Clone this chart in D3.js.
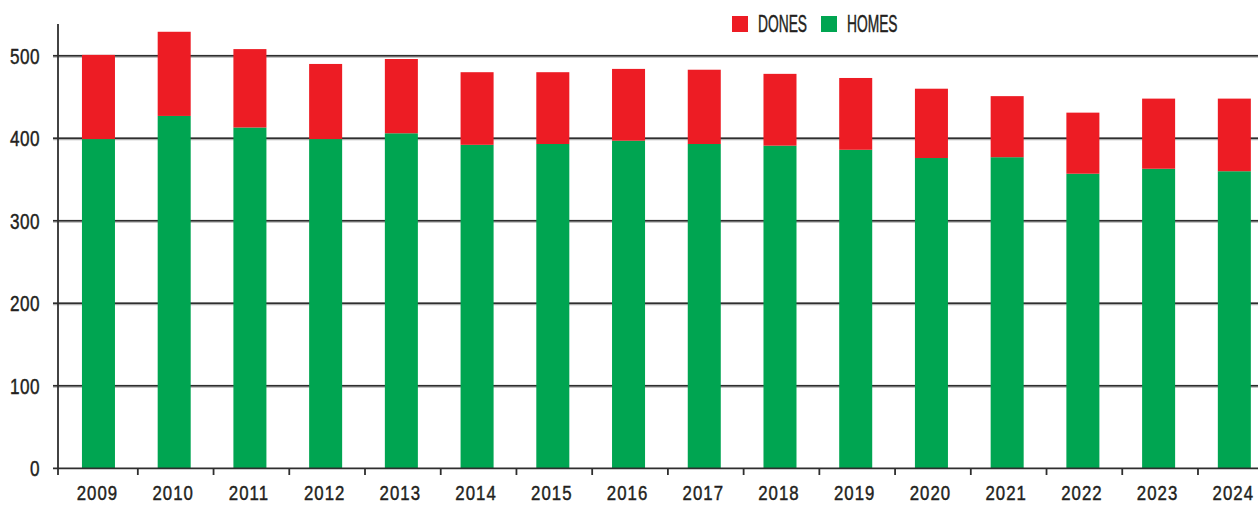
<!DOCTYPE html>
<html>
<head>
<meta charset="utf-8">
<script src="https://cdn.jsdelivr.net/npm/d3@7"></script>
<style>
  body { margin: 0; background: #fff; }
  svg { display: block; }
  text { font-family: 'Liberation Sans', Arial, sans-serif; fill: #231f20; stroke: #231f20; stroke-width: 0.45; }
</style>
</head>
<body>
<svg id="chart" width="1260" height="505"></svg>
<script>
const years = ['2009', '2010', '2011', '2012', '2013', '2014', '2015', '2016',
  '2017', '2018', '2019', '2020', '2021', '2022', '2023', '2024']
const homes = [399, 427, 413, 399, 406, 392, 393, 397, 393, 391, 386, 376, 377, 357, 363, 360]
const totals = [501, 529, 508, 490, 496, 480, 480, 484, 483, 478, 473, 460, 451, 431, 448, 448]
const dones = totals.map((t, i) => t - homes[i])
const yTicks = [0, 100, 200, 300, 400, 500]
const legendItems = [
  { name: 'DONES', color: '#ed1c24' },
  { name: 'HOMES', color: '#00a551' }
]

const svg = d3.select('#chart')
const axisLeftX = 58
const axisRightX = 1258

const x = d3.scaleBand()
  .domain(years)
  .range([60.6, 1272.2])
  .paddingInner(0.564)
  .paddingOuter(0.282)

const y = d3.scaleLinear()
  .domain([0, 500])
  .range([468.3, 55.7])

// gridlines
const grid = svg.append('g')
grid.selectAll('line.halo')
  .data(yTicks.filter(d => d > 0))
  .join('line')
  .attr('class', 'halo')
  .attr('x1', axisLeftX - 5).attr('x2', axisRightX)
  .attr('y1', d => y(d) + 0.5).attr('y2', d => y(d) + 0.5)
  .attr('stroke', '#b0b0b0').attr('stroke-width', 3)
grid.selectAll('line.main')
  .data(yTicks.filter(d => d > 0))
  .join('line')
  .attr('class', 'main')
  .attr('x1', axisLeftX - 5).attr('x2', axisRightX)
  .attr('y1', d => y(d)).attr('y2', d => y(d))
  .attr('stroke', '#2e2e2e').attr('stroke-width', 1.6)

// stacked bars
const stack = d3.stack().keys(['homes', 'dones'])
const rows = years.map((yr, i) => ({ year: yr, homes: homes[i], dones: dones[i] }))
const series = stack(rows)
const colors = { homes: '#00a551', dones: '#ed1c24' }

svg.append('g')
  .selectAll('g')
  .data(series)
  .join('g')
  .attr('fill', d => colors[d.key])
  .selectAll('rect')
  .data(d => d)
  .join('rect')
  .attr('x', d => x(d.data.year))
  .attr('width', x.bandwidth())
  .attr('y', d => y(d[1]))
  .attr('height', d => y(d[0]) - y(d[1]))

// y axis
const yAxis = svg.append('g')
yAxis.append('line')
  .attr('x1', axisLeftX).attr('x2', axisLeftX)
  .attr('y1', 24).attr('y2', 475)
  .attr('stroke', '#2e2e2e').attr('stroke-width', 1.8)
yAxis.selectAll('text')
  .data(yTicks)
  .join('text')
  .attr('transform', d => `translate(40,${y(d) + 8}) scale(0.78,1)`)
  .attr('text-anchor', 'end')
  .attr('font-size', 22)
  .attr('letter-spacing', 0.6)
  .text(d => d)

// x axis
const xAxis = svg.append('g')
xAxis.append('line')
  .attr('x1', axisLeftX - 5).attr('x2', axisRightX)
  .attr('y1', y(0)).attr('y2', y(0))
  .attr('stroke', '#2e2e2e').attr('stroke-width', 1.8)
xAxis.selectAll('line.tick')
  .data(years.slice(1))
  .join('line')
  .attr('class', 'tick')
  .attr('x1', d => x(d) - x.step() * x.paddingInner() / 2 + 1.5)
  .attr('x2', d => x(d) - x.step() * x.paddingInner() / 2 + 1.5)
  .attr('y1', y(0)).attr('y2', 475)
  .attr('stroke', '#2e2e2e').attr('stroke-width', 1.8)
xAxis.selectAll('text')
  .data(years)
  .join('text')
  .attr('transform', d => `translate(${x(d) + x.bandwidth() / 2 - 1},500) scale(0.8,1)`)
  .attr('text-anchor', 'middle')
  .attr('font-size', 21)
  .attr('letter-spacing', 1.3)
  .text(d => d)

// legend
const legend = svg.append('g')
const legendX = [732, 821]
legendItems.forEach((item, i) => {
  legend.append('rect')
    .attr('x', legendX[i]).attr('y', 16)
    .attr('width', 16).attr('height', 16)
    .attr('fill', item.color)
  legend.append('text')
    .attr('transform', `translate(${legendX[i] + 26},32) scale(0.6,1)`)
    .attr('font-size', 23)
    .text(item.name)
})
</script>
</body>
</html>
